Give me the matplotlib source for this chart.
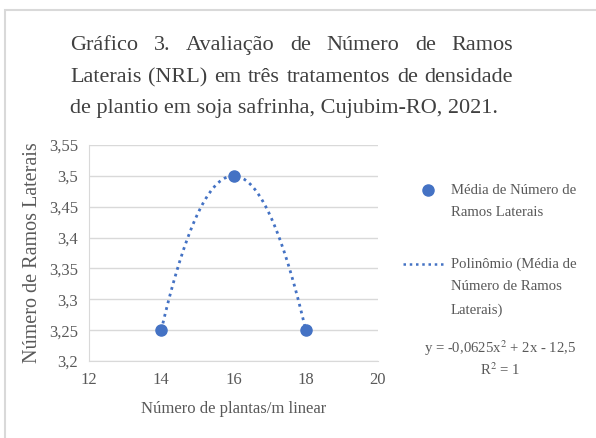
import numpy as np
import matplotlib
matplotlib.use('Agg')
import matplotlib.pyplot as plt
from matplotlib.lines import Line2D
from matplotlib.patches import Rectangle

plt.rcParams['font.family'] = ['Liberation Serif', 'DejaVu Serif']

# data
plantas = [14, 16, 18]
ramos = [3.25, 3.5, 3.25]
xticks = [12, 14, 16, 18, 20]
yticks = [3.2, 3.25, 3.3, 3.35, 3.4, 3.45, 3.5, 3.55]

title_lines = ['Gráfico 3. Avaliação de Número de Ramos',
               'Laterais (NRL) em três tratamentos de densidade',
               'de plantio em soja safrinha, Cujubim-RO, 2021.']

blue = '#4472C4'
txt = '#595959'
W, H = 596, 438

fig = plt.figure(figsize=(W / 100, H / 100), dpi=100)

# outer frame (only top and left edges are visible)
fig.add_artist(Rectangle((5 / W, -0.1), 1.2, 1 - 10 / H + 0.1, transform=fig.transFigure,
                         fill=False, edgecolor='#d9d9d9', linewidth=1.5))

ax = fig.add_axes([89 / W, 1 - 361 / H, (378 - 89) / W, (361 - 145) / H])

coef = np.polyfit(plantas, ramos, 2)
xs = np.linspace(min(plantas), max(plantas), 200)
ax.plot(xs, np.polyval(coef, xs), color=blue, linestyle=(0, (1, 1.5)), linewidth=2, zorder=2)
ax.plot(plantas, ramos, 'o', color=blue, markersize=8, zorder=3)

ax.set_xlim(12, 20)
ax.set_ylim(3.2, 3.55)
ax.set_xticks(xticks)
ax.set_yticks(yticks)
ax.set_xticklabels([str(v) for v in xticks])
ax.set_yticklabels([('%g' % v).replace('.', ',') for v in yticks])
ax.tick_params(length=0, labelsize=12, colors=txt, pad=8)
ax.grid(axis='y', color='#d9d9d9', linewidth=1)
ax.set_axisbelow(True)
for s in ['top', 'right']:
    ax.spines[s].set_visible(False)
for s in ['left', 'bottom']:
    ax.spines[s].set_color('#d9d9d9')
ax.set_xlabel('Número de plantas/m linear', fontsize=12, color=txt, labelpad=9)
ax.set_ylabel('Número de Ramos Laterais', fontsize=14.5, color=txt, labelpad=5)

# legend drawn by hand
def px(x, y):
    return x / W, 1 - y / H

fig.add_artist(Line2D([428 / W], [1 - 190 / H], marker='o', color=blue, markersize=8,
                      transform=fig.transFigure))
fig.add_artist(Line2D([403 / W, 444 / W], [1 - 264 / H] * 2, color=blue, linewidth=1.8,
                      linestyle=(0, (1, 1.5)), transform=fig.transFigure))
leg = [('Média de Número de', 190), ('Ramos Laterais', 213),
       ('Polinômio (Média de', 264), ('Número de Ramos', 287), ('Laterais)', 310)]
for t, y in leg:
    fig.text(*px(451, y), t, fontsize=10.6, color=txt, va='center', ha='left')
fig.text(*px(500, 348), 'y = -0,0625x$^2$ + 2x - 12,5', fontsize=10.6, color=txt,
         va='center', ha='center', math_fontfamily='stix')
fig.text(*px(500, 370), 'R$^2$ = 1', fontsize=10.6, color=txt,
         va='center', ha='center', math_fontfamily='stix')

# justified title
renderer = fig.canvas.get_renderer()
left, right = 70, 513
baselines = [50, 82, 113]
fs = 16
for i, line in enumerate(title_lines):
    words = line.split(' ')
    y = 1 - baselines[i] / H
    if i == len(title_lines) - 1:
        fig.text(left / W, y, line, fontsize=fs, color='#404040', va='baseline')
        continue
    objs = [fig.text(0, y, w, fontsize=fs, color='#404040', va='baseline') for w in words]
    widths = [o.get_window_extent(renderer).width for o in objs]
    gap = (right - left - sum(widths)) / (len(words) - 1)
    x = left
    for o, w in zip(objs, widths):
        o.set_x(x / W)
        x += w + gap

fig.savefig('out.png', dpi=100)
